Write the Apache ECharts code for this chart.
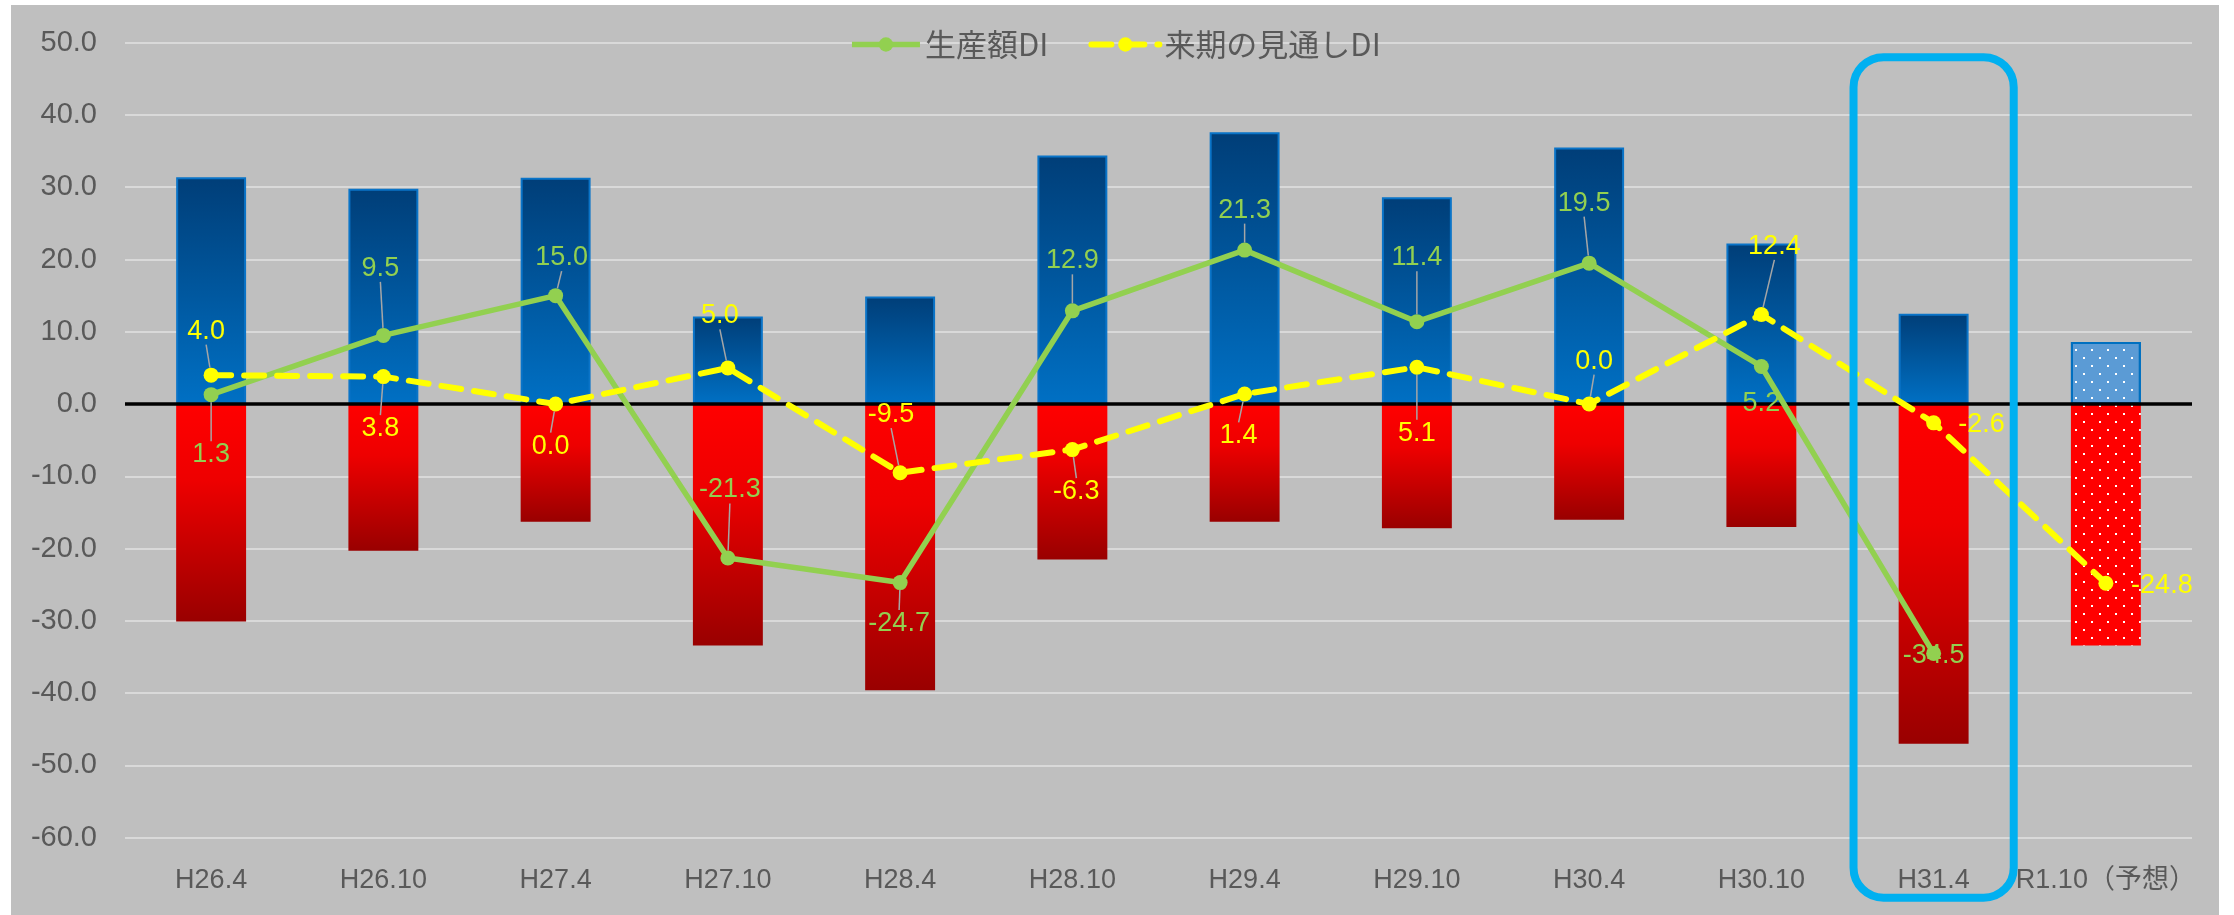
<!DOCTYPE html>
<html><head><meta charset="utf-8">
<script src="https://cdn.jsdelivr.net/npm/echarts@6/dist/echarts.min.js"></script>
<style>
html,body{margin:0;padding:0;background:#fff;width:2234px;height:915px;overflow:hidden}
#c{position:absolute;left:11px;top:5px;width:2208px;height:910px;}
</style></head><body><div id="c"></div>
<script>
// ---- data ----
const categories = ['H26.4','H26.10','H27.4','H27.10','H28.4','H28.10','H29.4','H29.10','H30.4','H30.10','H31.4','R1.10（予想）'];
const increaseShare = [31.4, 29.8, 31.3, 12.1, 14.9, 34.4, 37.6, 28.6, 35.5, 22.2, 12.5, 8.6];
const decreaseShare = [-30.1, -20.3, -16.3, -33.4, -39.6, -21.5, -16.3, -17.2, -16.0, -17.0, -47.0, -33.4];
const productionDI = [1.3, 9.5, 15.0, -21.3, -24.7, 12.9, 21.3, 11.4, 19.5, 5.2, -34.5, null];
const outlookDI = [4.0, 3.8, 0.0, 5.0, -9.5, -6.3, 1.4, 5.1, 0.0, 12.4, -2.6, -24.8];
const yMin = -60, yMax = 50, yInterval = 10;
const forecastIndex = 11;
const highlightCategory = 'H31.4';

// ---- label placement (style) ----
const greenLabelOffset = [[0,60],[-3,-67],[6,-38],[2,-68],[-1,41],[0,-50],[0,-40],[0,-64],[-5,-60],[0,37],[0,2],[0,0]];
const yellowLabelOffset = [[-5,-44],[-3,52],[-5,42],[-8,-52],[-9,-58],[4,42],[-6,42],[0,66],[5,-43],[13,-68],[48,2],[56,2]];
const greenNoLine = [9, 10];
const yellowNoLine = [10, 11];

const FONT = "'Liberation Sans', 'Noto Sans CJK JP', sans-serif";
const CJK = "'Noto Sans CJK JP', 'Liberation Sans', sans-serif";

const dots = { symbol: 'rect', symbolSize: 1, color: '#FFFFFF', dashArrayX: [[2,14],[0,8,2,6]], dashArrayY: [2,6], rotation: 0 };

const blueGrad = new echarts.graphic.LinearGradient(0,0,0,1,[{offset:0,color:'#003E78'},{offset:1,color:'#0070C4'}]);
const redGrad = new echarts.graphic.LinearGradient(0,0,0,1,[{offset:0,color:'#FF0000'},{offset:0.35,color:'#EE0000'},{offset:1,color:'#990000'}]);

const blueData = increaseShare.map((v,i) => i === forecastIndex
  ? {value:v, itemStyle:{color:'#5B9BD5', borderColor:'#0070C0', borderWidth:2, decal: dots}}
  : v);
const redData = decreaseShare.map((v,i) => i === forecastIndex
  ? {value:v, itemStyle:{color:'#FF0000', borderWidth:0, decal: dots}}
  : v);

function lineData(arr, noLine) {
  return arr.map((v,i) => noLine.indexOf(i) >= 0 ? {value:v, labelLine:{show:false}} : v);
}

const chart = echarts.init(document.getElementById('c'), null, {renderer:'canvas'});
const option = {
  animation: false,
  backgroundColor: '#BFBFBF',
  grid: { left: 114, right: 27, top: 37.7, bottom: 77.3, containLabel: false },
  legend: {
    data: ['生産額DI','来期の見通しDI'],
    top: 19, left: 'center',
    itemWidth: 68, itemHeight: 18, itemGap: 40,
    lineStyle: { width: 'inherit' },
    textStyle: { color:'#595959', fontSize: 31, fontFamily: CJK }
  },
  xAxis: {
    type: 'category', data: categories,
    axisLine: { show: false }, axisTick: { show: false },
    axisLabel: { color:'#595959', fontSize: 27, fontFamily: FONT, margin: 29, interval: 0 }
  },
  yAxis: {
    type: 'value', min: yMin, max: yMax, interval: yInterval,
    axisLine: { show: false }, axisTick: { show: false },
    axisLabel: { color:'#595959', fontSize: 29, fontFamily: FONT, margin: 28, formatter: v => v.toFixed(1) },
    splitLine: { lineStyle: { color:'#D9D9D9', width: 2 } }
  },
  series: [
    {
      name: '増加', type: 'bar', data: blueData, barWidth: '40.6%', barGap: '-100%',
      itemStyle: { color: blueGrad, borderColor: '#0A74C8', borderWidth: 2 },
      markLine: {
        silent: true, symbol: ['none','none'], label: { show: false }, z: 4,
        lineStyle: { color: '#000', width: 3.5, type: 'solid' },
        data: [{ yAxis: 0 }]
      }
    },
    {
      name: '減少', type: 'bar', data: redData, barWidth: '40.6%', barGap: '-100%',
      itemStyle: { color: redGrad }
    },
    {
      name: '生産額DI', type: 'line', data: lineData(productionDI, greenNoLine), z: 6,
      symbol: 'circle', symbolSize: 15,
      itemStyle: { color: '#92D050' },
      lineStyle: { color: '#92D050', width: 5.5 },
      label: { show: true, position: 'inside', color: '#92D050', fontSize: 27, fontFamily: FONT, formatter: p => p.value == null ? '' : Number(p.value).toFixed(1) },
      labelLine: { show: true, lineStyle: { color: '#A6A6A6', width: 1.5 } },
      labelLayout: p => ({ dx: greenLabelOffset[p.dataIndex][0], dy: greenLabelOffset[p.dataIndex][1] })
    },
    {
      name: '来期の見通しDI', type: 'line', data: lineData(outlookDI, yellowNoLine), z: 7,
      symbol: 'circle', symbolSize: 15,
      itemStyle: { color: '#FFFF00' },
      lineStyle: { color: '#FFFF00', width: 6, type: [20, 13], cap: 'round' },
      label: { show: true, position: 'inside', color: '#FFFF00', fontSize: 27, fontFamily: FONT, formatter: p => Number(p.value).toFixed(1) },
      labelLine: { show: true, lineStyle: { color: '#A6A6A6', width: 1.5 } },
      labelLayout: p => ({ dx: yellowLabelOffset[p.dataIndex][0], dy: yellowLabelOffset[p.dataIndex][1] })
    }
  ]
};
chart.setOption(option);

// highlight frame around the latest period, placed via the axes' scales
const hi = categories.indexOf(highlightCategory);
const cx = chart.convertToPixel({xAxisIndex:0}, categories[hi]);
const band = cx - chart.convertToPixel({xAxisIndex:0}, categories[hi-1]);
const yTop = chart.convertToPixel({yAxisIndex:0}, 48);
const yBot = chart.convertToPixel({yAxisIndex:0}, yMin) + 60;
chart.setOption({ graphic: [{
  type: 'rect', z: 100, silent: true,
  shape: { x: cx - band*0.465, y: yTop, width: band*0.93, height: yBot - yTop, r: 30 },
  style: { fill: 'none', stroke: '#00B0F0', lineWidth: 8 }
}]});
</script></body></html>
